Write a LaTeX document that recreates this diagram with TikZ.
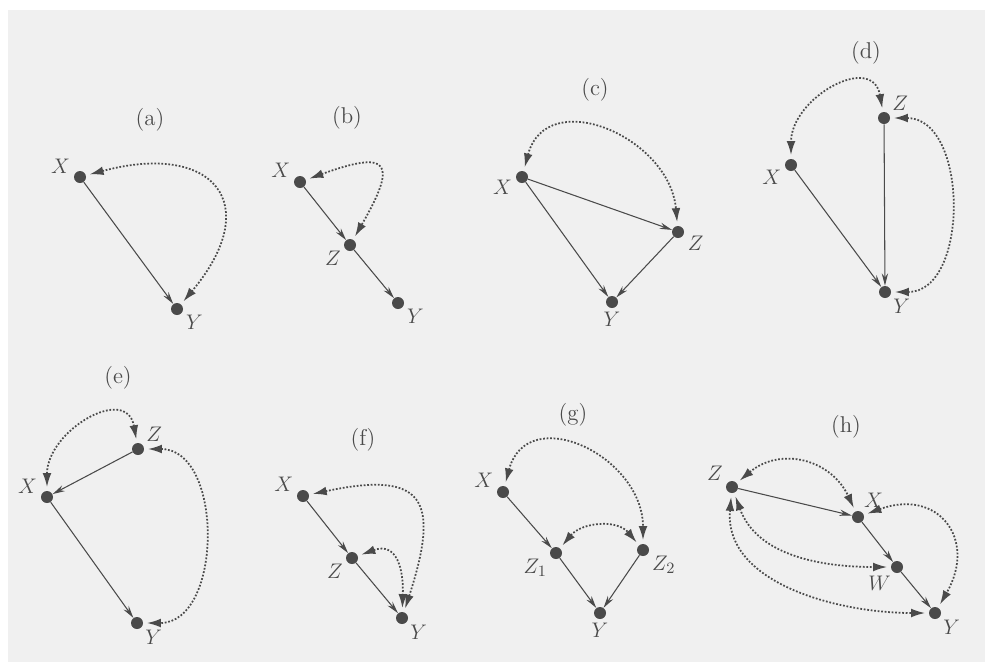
\documentclass[tikz,border=0pt]{standalone}
\usetikzlibrary{arrows.meta}

\definecolor{ink}{HTML}{4A4A4A}
\definecolor{paper}{HTML}{F0F0F0}

\tikzset{
	dot/.style={circle, fill=ink, inner sep=0pt, minimum size=0.24cm},
	lab/.style={text=ink, font=\fontsize{13}{15}\selectfont, inner sep=1pt},
	cause/.style={draw=ink, line width=0.6pt, -{Stealth[length=7pt,width=3.6pt]}},
	confound/.style={draw=ink, densely dotted, line width=1pt,
		{Latex[length=8pt,width=5pt]}-{Latex[length=8pt,width=5pt]},
		shorten <=2pt, shorten >=2pt},
	every label/.style={lab}, label distance=1pt
}

\begin{document}
\begin{tikzpicture}
	
	\useasboundingbox (0,0) rectangle (19.7,-13.24);
	\fill[paper] (0.16,-0.2) rectangle (19.7,-13.24);
	
	% (a)
	\node[lab] (la) at (3.00,-2.40) {(a)};
	\node[dot, label=170:$X$] (Xa) at (1.60,-3.54) {};
	\node[dot, label=-30:$Y$] (Ya) at (3.54,-6.18) {};
	\draw[cause] (Xa) -- (Ya);
	\draw[confound] (Xa) to[out=15, in=50, looseness=2.1] (Ya);
	
	% (b)
	\node[lab] (lb) at (6.94,-2.36) {(b)};
	\node[dot, label=160:$X$] (Xb) at (6.00,-3.64) {};
	\node[dot, label=-150:$Z$] (Zb) at (7.00,-4.90) {};
	\node[dot, label=-30:$Y$] (Yb) at (7.96,-6.06) {};
	\draw[cause] (Xb) -- (Zb);
	\draw[cause] (Zb) -- (Yb);
	\draw[confound] (Xb) to[out=20, in=60, looseness=3] (Zb);
	
	% (c)
	\node[lab] (lc) at (11.90,-1.80) {(c)};
	\node[dot, label=190:$X$] (Xc) at (10.44,-3.54) {};
	\node[dot, label=-15:$Z$] (Zc) at (13.56,-4.64) {};
	\node[dot, label=-90:$Y$] (Yc) at (12.24,-6.04) {};
	\draw[cause] (Xc) -- (Zc);
	\draw[cause] (Xc) -- (Yc);
	\draw[cause] (Zc) -- (Yc);
	\draw[confound] (Xc) to[out=75, in=95, looseness=1.4] (Zc);
	
	% (d)
	\node[lab] (ld) at (17.32,-1.06) {(d)};
	\node[dot, label=40:$Z$] (Zd) at (17.68,-2.36) {};
	\node[dot, label=200:$X$] (Xd) at (15.82,-3.30) {};
	\node[dot, label=-40:$Y$] (Yd) at (17.70,-5.84) {};
	\draw[cause] (Xd) -- (Yd);
	\draw[cause] (Zd) -- (Yd);
	\draw[confound] (Zd) to[out=100, in=90, looseness=1.5] (Xd);
	\draw[confound] (Zd) to[out=0, in=0, looseness=1.15] (Yd);
	
	% (e)
	\node[lab] (le) at (2.36,-7.56) {(e)};
	\node[dot, label=40:$Z$] (Ze) at (2.76,-8.98) {};
	\node[dot, label=170:$X$] (Xe) at (0.94,-9.94) {};
	\node[dot, label=-40:$Y$] (Ye) at (2.74,-12.46) {};
	\draw[cause] (Ze) -- (Xe);
	\draw[cause] (Xe) -- (Ye);
	\draw[confound] (Ze) to[out=100, in=90, looseness=1.5] (Xe);
	\draw[confound] (Ze) to[out=0, in=0, looseness=1.17] (Ye);
	
	% (f)
	\node[lab] (lf) at (7.26,-8.80) {(f)};
	\node[dot, label=160:$X$] (Xf) at (6.06,-9.92) {};
	\node[dot, label=-150:$Z$] (Zf) at (7.04,-11.16) {};
	\node[dot, label=-40:$Y$] (Yf) at (8.04,-12.36) {};
	\draw[cause] (Xf) -- (Zf);
	\draw[cause] (Zf) -- (Yf);
	\draw[confound] (Xf) to[out=12, in=72, looseness=2.0] (Yf);
	\draw[confound] (Zf) to[out=20, in=88, looseness=1.5] (Yf);
	
	% (g)
	\node[lab] (lg) at (11.46,-8.30) {(g)};
	\node[dot, label=165:$X$] (Xg) at (10.06,-9.84) {};
	\node[dot, label=-150:$Z_1$] (Z1g) at (11.12,-11.06) {};
	\node[dot, label=-30:$Z_2$] (Z2g) at (12.86,-11.00) {};
	\node[dot, label=-90:$Y$] (Yg) at (12.00,-12.26) {};
	\draw[cause] (Xg) -- (Z1g);
	\draw[cause] (Z1g) -- (Yg);
	\draw[cause] (Z2g) -- (Yg);
	\draw[confound] (Xg) to[out=75, in=90, looseness=1.5] (Z2g);
	\draw[confound] (Z1g) to[out=50, in=130, looseness=1.1] (Z2g);
	
	% (h)
	\node[lab] (lh) at (16.92,-8.54) {(h)};
	\node[dot, label=150:$Z$] (Zh) at (14.64,-9.74) {};
	\node[dot, label=60:$X$] (Xh) at (17.16,-10.34) {};
	\node[dot, label=-120:$W$] (Wh) at (17.94,-11.34) {};
	\node[dot, label=-40:$Y$] (Yh) at (18.70,-12.26) {};
	\draw[cause] (Zh) -- (Xh);
	\draw[cause] (Xh) -- (Wh);
	\draw[cause] (Wh) -- (Yh);
	\draw[confound] (Zh) to[out=40, in=115, looseness=1.2] (Xh);
	\draw[confound] (Xh) to[out=20, in=60, looseness=1.7] (Yh);
	\draw[confound] (Zh) to[out=-70, in=180, looseness=1.0] (Wh);
	\draw[confound] (Zh) to[out=-95, in=180, looseness=1.0] (Yh);
	
\end{tikzpicture}
\end{document}
